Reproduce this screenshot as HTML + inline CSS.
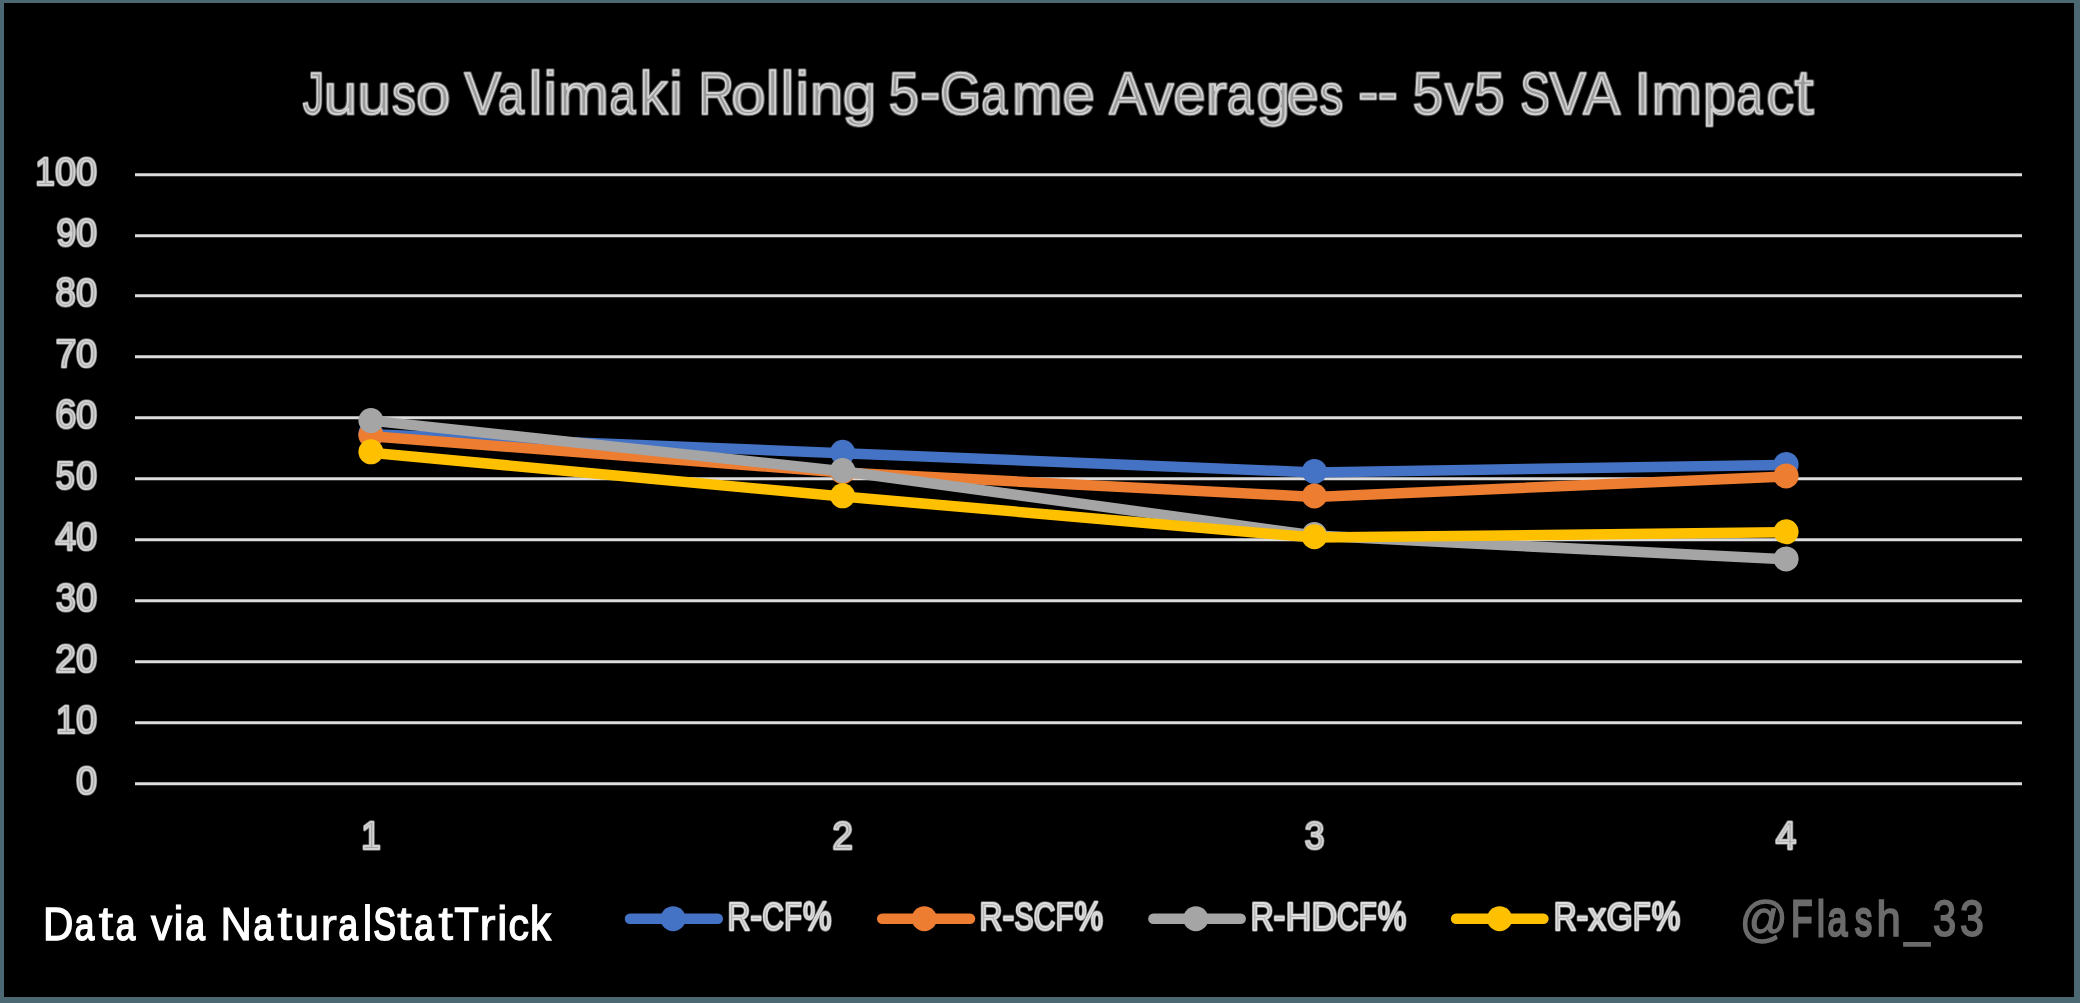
<!DOCTYPE html>
<html lang="en"><head><meta charset="utf-8"><title>Juuso Valimaki Rolling 5-Game Averages</title>
<style>
html,body{margin:0;padding:0;background:#000;}
body{width:2080px;height:1003px;overflow:hidden;}
svg{display:block;will-change:transform;}
text{font-family:'Liberation Sans', sans-serif;font-kerning:none;}
.t{font-size:59.5px;stroke-linejoin:round;}
.x{font-size:39.6px;stroke-linejoin:round;}
.src{font-size:46px;fill:#ffffff;stroke:#ffffff;stroke-width:1px;}
.tag{font-size:50px;fill:#6b6b6b;stroke:#6b6b6b;stroke-width:1.2px;}
</style></head>
<body>
<svg width="2080" height="1003" viewBox="0 0 2080 1003">
<defs>
<g id="tt">
<text><tspan x="302.75" y="114.10" font-size="59.5" textLength="21.42" lengthAdjust="spacingAndGlyphs">J</tspan><tspan x="323.73" y="114.10" font-size="57.7" textLength="33.27" lengthAdjust="spacingAndGlyphs">u</tspan><tspan x="357.45" y="114.10" font-size="57.7" textLength="33.27" lengthAdjust="spacingAndGlyphs">u</tspan><tspan x="392.00" y="114.10" font-size="57.6" textLength="23.79" lengthAdjust="spacingAndGlyphs">s</tspan><tspan x="415.99" y="114.10" font-size="57.5" textLength="34.32" lengthAdjust="spacingAndGlyphs">o</tspan> <tspan x="464.52" y="114.10" font-size="59.5" textLength="36.51" lengthAdjust="spacingAndGlyphs">V</tspan><tspan x="498.04" y="114.10" font-size="57.6" textLength="26.16" lengthAdjust="spacingAndGlyphs">a</tspan><tspan x="528.53" y="114.10" font-size="61.1" textLength="13.94" lengthAdjust="spacingAndGlyphs">l</tspan><tspan x="543.48" y="114.10" font-size="60.6" textLength="13.46" lengthAdjust="spacingAndGlyphs">i</tspan><tspan x="558.17" y="114.10" font-size="57.5" textLength="50.59" lengthAdjust="spacingAndGlyphs">m</tspan><tspan x="609.50" y="114.10" font-size="57.6" textLength="26.16" lengthAdjust="spacingAndGlyphs">a</tspan><tspan x="639.83" y="114.10" font-size="61.1" textLength="28.08" lengthAdjust="spacingAndGlyphs">k</tspan><tspan x="669.37" y="114.10" font-size="60.6" textLength="13.46" lengthAdjust="spacingAndGlyphs">i</tspan> <tspan x="698.56" y="114.10" font-size="59.5" textLength="35.63" lengthAdjust="spacingAndGlyphs">R</tspan><tspan x="731.29" y="114.10" font-size="57.5" textLength="34.32" lengthAdjust="spacingAndGlyphs">o</tspan><tspan x="765.75" y="114.10" font-size="61.1" textLength="13.94" lengthAdjust="spacingAndGlyphs">l</tspan><tspan x="780.48" y="114.10" font-size="61.1" textLength="13.94" lengthAdjust="spacingAndGlyphs">l</tspan><tspan x="795.43" y="114.10" font-size="60.6" textLength="13.46" lengthAdjust="spacingAndGlyphs">i</tspan><tspan x="809.96" y="114.10" font-size="57.5" textLength="33.27" lengthAdjust="spacingAndGlyphs">n</tspan><tspan x="842.74" y="114.10" font-size="57.7" textLength="33.48" lengthAdjust="spacingAndGlyphs">g</tspan> <tspan x="888.71" y="114.10" font-size="59.5" textLength="30.29" lengthAdjust="spacingAndGlyphs">5</tspan><tspan x="920.12" y="114.10" font-size="64.3" textLength="20.43" lengthAdjust="spacingAndGlyphs">-</tspan><tspan x="939.88" y="114.10" font-size="59.3" textLength="41.36" lengthAdjust="spacingAndGlyphs">G</tspan><tspan x="981.26" y="114.10" font-size="57.6" textLength="26.16" lengthAdjust="spacingAndGlyphs">a</tspan><tspan x="1011.94" y="114.10" font-size="57.5" textLength="50.59" lengthAdjust="spacingAndGlyphs">m</tspan><tspan x="1062.51" y="114.10" font-size="57.5" textLength="32.31" lengthAdjust="spacingAndGlyphs">e</tspan> <tspan x="1109.20" y="114.10" font-size="59.5" textLength="36.88" lengthAdjust="spacingAndGlyphs">A</tspan><tspan x="1145.40" y="114.10" font-size="57.7" textLength="28.18" lengthAdjust="spacingAndGlyphs">v</tspan><tspan x="1173.24" y="114.10" font-size="57.5" textLength="32.31" lengthAdjust="spacingAndGlyphs">e</tspan><tspan x="1205.77" y="114.10" font-size="57.6" textLength="21.10" lengthAdjust="spacingAndGlyphs">r</tspan><tspan x="1226.98" y="114.10" font-size="57.6" textLength="26.16" lengthAdjust="spacingAndGlyphs">a</tspan><tspan x="1256.56" y="114.10" font-size="57.7" textLength="33.48" lengthAdjust="spacingAndGlyphs">g</tspan><tspan x="1286.63" y="114.10" font-size="57.5" textLength="32.31" lengthAdjust="spacingAndGlyphs">e</tspan><tspan x="1319.55" y="114.10" font-size="57.6" textLength="23.79" lengthAdjust="spacingAndGlyphs">s</tspan> <tspan x="1357.91" y="114.10" font-size="64.3" textLength="20.43" lengthAdjust="spacingAndGlyphs">-</tspan><tspan x="1377.55" y="114.10" font-size="64.3" textLength="20.43" lengthAdjust="spacingAndGlyphs">-</tspan> <tspan x="1412.82" y="114.10" font-size="59.5" textLength="30.29" lengthAdjust="spacingAndGlyphs">5</tspan><tspan x="1445.01" y="114.10" font-size="57.7" textLength="28.18" lengthAdjust="spacingAndGlyphs">v</tspan><tspan x="1474.32" y="114.10" font-size="59.5" textLength="30.29" lengthAdjust="spacingAndGlyphs">5</tspan> <tspan x="1520.33" y="114.10" font-size="59.3" textLength="29.55" lengthAdjust="spacingAndGlyphs">S</tspan><tspan x="1549.61" y="114.10" font-size="59.5" textLength="36.51" lengthAdjust="spacingAndGlyphs">V</tspan><tspan x="1583.21" y="114.10" font-size="59.5" textLength="36.88" lengthAdjust="spacingAndGlyphs">A</tspan> <tspan x="1634.29" y="114.10" font-size="59.5" textLength="16.99" lengthAdjust="spacingAndGlyphs">I</tspan><tspan x="1651.45" y="114.10" font-size="57.5" textLength="50.59" lengthAdjust="spacingAndGlyphs">m</tspan><tspan x="1702.68" y="114.10" font-size="57.7" textLength="33.36" lengthAdjust="spacingAndGlyphs">p</tspan><tspan x="1736.48" y="114.10" font-size="57.6" textLength="26.16" lengthAdjust="spacingAndGlyphs">a</tspan><tspan x="1766.41" y="114.10" font-size="57.5" textLength="27.51" lengthAdjust="spacingAndGlyphs">c</tspan><tspan x="1794.63" y="114.10" font-size="62.4" textLength="19.07" lengthAdjust="spacingAndGlyphs">t</tspan></text>
</g>
<g id="ax">
<text><tspan x="76.21" y="794.20" font-size="39.5" textLength="20.70" lengthAdjust="spacingAndGlyphs">0</tspan></text>
<text><tspan x="56.01" y="733.20" font-size="39.7" textLength="19.58" lengthAdjust="spacingAndGlyphs">1</tspan><tspan x="76.21" y="733.20" font-size="39.5" textLength="20.70" lengthAdjust="spacingAndGlyphs">0</tspan></text>
<text><tspan x="55.49" y="672.20" font-size="39.5" textLength="20.34" lengthAdjust="spacingAndGlyphs">2</tspan><tspan x="76.21" y="672.20" font-size="39.5" textLength="20.70" lengthAdjust="spacingAndGlyphs">0</tspan></text>
<text><tspan x="56.12" y="611.20" font-size="39.5" textLength="19.71" lengthAdjust="spacingAndGlyphs">3</tspan><tspan x="76.21" y="611.20" font-size="39.5" textLength="20.70" lengthAdjust="spacingAndGlyphs">0</tspan></text>
<text><tspan x="55.39" y="550.20" font-size="39.6" textLength="20.48" lengthAdjust="spacingAndGlyphs">4</tspan><tspan x="76.21" y="550.20" font-size="39.5" textLength="20.70" lengthAdjust="spacingAndGlyphs">0</tspan></text>
<text><tspan x="55.76" y="489.20" font-size="39.6" textLength="19.01" lengthAdjust="spacingAndGlyphs">5</tspan><tspan x="76.21" y="489.20" font-size="39.5" textLength="20.70" lengthAdjust="spacingAndGlyphs">0</tspan></text>
<text><tspan x="55.39" y="428.20" font-size="41.1" textLength="20.77" lengthAdjust="spacingAndGlyphs">6</tspan><tspan x="76.21" y="428.20" font-size="39.5" textLength="20.70" lengthAdjust="spacingAndGlyphs">0</tspan></text>
<text><tspan x="55.70" y="367.20" font-size="39.6" textLength="20.49" lengthAdjust="spacingAndGlyphs">7</tspan><tspan x="76.21" y="367.20" font-size="39.5" textLength="20.70" lengthAdjust="spacingAndGlyphs">0</tspan></text>
<text><tspan x="55.59" y="306.20" font-size="41.5" textLength="20.18" lengthAdjust="spacingAndGlyphs">8</tspan><tspan x="76.21" y="306.20" font-size="39.5" textLength="20.70" lengthAdjust="spacingAndGlyphs">0</tspan></text>
<text><tspan x="56.51" y="246.20" font-size="39.5" textLength="19.70" lengthAdjust="spacingAndGlyphs">9</tspan><tspan x="76.21" y="246.20" font-size="39.5" textLength="20.70" lengthAdjust="spacingAndGlyphs">0</tspan></text>
<text><tspan x="35.13" y="185.20" font-size="39.7" textLength="19.58" lengthAdjust="spacingAndGlyphs">1</tspan><tspan x="55.33" y="185.20" font-size="39.5" textLength="20.70" lengthAdjust="spacingAndGlyphs">0</tspan><tspan x="76.21" y="185.20" font-size="39.5" textLength="20.70" lengthAdjust="spacingAndGlyphs">0</tspan></text>
<text><tspan x="361.21" y="848.60" font-size="39.7" textLength="19.58" lengthAdjust="spacingAndGlyphs">1</tspan> <tspan x="832.43" y="848.60" font-size="39.5" textLength="20.34" lengthAdjust="spacingAndGlyphs">2</tspan> <tspan x="1304.81" y="848.60" font-size="39.5" textLength="19.71" lengthAdjust="spacingAndGlyphs">3</tspan> <tspan x="1775.84" y="848.60" font-size="39.6" textLength="20.48" lengthAdjust="spacingAndGlyphs">4</tspan></text>
</g>
<g id="lg">
<text><tspan x="727.40" y="930.20" font-size="39.6" textLength="22.83" lengthAdjust="spacingAndGlyphs">R</tspan><tspan x="750.20" y="930.20" font-size="42.8" textLength="11.78" lengthAdjust="spacingAndGlyphs">-</tspan><tspan x="762.34" y="930.20" font-size="39.5" textLength="21.54" lengthAdjust="spacingAndGlyphs">C</tspan><tspan x="784.36" y="930.20" font-size="39.6" textLength="17.65" lengthAdjust="spacingAndGlyphs">F</tspan><tspan x="803.12" y="930.20" font-size="40.6" textLength="28.53" lengthAdjust="spacingAndGlyphs">%</tspan> <tspan x="979.60" y="930.20" font-size="39.6" textLength="22.83" lengthAdjust="spacingAndGlyphs">R</tspan><tspan x="1002.40" y="930.20" font-size="42.8" textLength="11.78" lengthAdjust="spacingAndGlyphs">-</tspan><tspan x="1014.44" y="930.20" font-size="39.5" textLength="18.95" lengthAdjust="spacingAndGlyphs">S</tspan><tspan x="1033.78" y="930.20" font-size="39.5" textLength="21.54" lengthAdjust="spacingAndGlyphs">C</tspan><tspan x="1055.80" y="930.20" font-size="39.6" textLength="17.65" lengthAdjust="spacingAndGlyphs">F</tspan><tspan x="1074.55" y="930.20" font-size="40.6" textLength="28.53" lengthAdjust="spacingAndGlyphs">%</tspan> <tspan x="1250.70" y="930.20" font-size="39.6" textLength="22.83" lengthAdjust="spacingAndGlyphs">R</tspan><tspan x="1273.50" y="930.20" font-size="42.8" textLength="11.78" lengthAdjust="spacingAndGlyphs">-</tspan><tspan x="1285.66" y="930.20" font-size="39.6" textLength="25.58" lengthAdjust="spacingAndGlyphs">H</tspan><tspan x="1311.39" y="930.20" font-size="39.6" textLength="25.63" lengthAdjust="spacingAndGlyphs">D</tspan><tspan x="1336.98" y="930.20" font-size="39.5" textLength="21.54" lengthAdjust="spacingAndGlyphs">C</tspan><tspan x="1358.99" y="930.20" font-size="39.6" textLength="17.65" lengthAdjust="spacingAndGlyphs">F</tspan><tspan x="1377.75" y="930.20" font-size="40.6" textLength="28.53" lengthAdjust="spacingAndGlyphs">%</tspan> <tspan x="1553.75" y="930.20" font-size="39.6" textLength="22.83" lengthAdjust="spacingAndGlyphs">R</tspan><tspan x="1576.55" y="930.20" font-size="42.8" textLength="11.78" lengthAdjust="spacingAndGlyphs">-</tspan><tspan x="1588.60" y="930.20" font-size="38.6" textLength="17.43" lengthAdjust="spacingAndGlyphs">x</tspan><tspan x="1606.78" y="930.20" font-size="39.5" textLength="25.89" lengthAdjust="spacingAndGlyphs">G</tspan><tspan x="1633.11" y="930.20" font-size="39.6" textLength="17.65" lengthAdjust="spacingAndGlyphs">F</tspan><tspan x="1651.86" y="930.20" font-size="40.6" textLength="28.53" lengthAdjust="spacingAndGlyphs">%</tspan></text>
</g>
<mask id="ttm" maskUnits="userSpaceOnUse" x="0" y="0" width="2080" height="160">
<use href="#tt" class="t" fill="#fff" stroke="#fff" stroke-width="1.4"/>
</mask>
</defs>
<rect x="0" y="0" width="2080" height="1003" fill="#4c6872"/>
<rect x="4" y="3" width="2070" height="994" fill="#000000"/>
<g stroke="#dcdcdc" stroke-width="3" fill="none">
<line x1="135" y1="783.70" x2="2022" y2="783.70"/>
<line x1="135" y1="722.70" x2="2022" y2="722.70"/>
<line x1="135" y1="661.70" x2="2022" y2="661.70"/>
<line x1="135" y1="600.70" x2="2022" y2="600.70"/>
<line x1="135" y1="539.70" x2="2022" y2="539.70"/>
<line x1="135" y1="478.70" x2="2022" y2="478.70"/>
<line x1="135" y1="417.70" x2="2022" y2="417.70"/>
<line x1="135" y1="356.70" x2="2022" y2="356.70"/>
<line x1="135" y1="295.70" x2="2022" y2="295.70"/>
<line x1="135" y1="235.70" x2="2022" y2="235.70"/>
<line x1="135" y1="174.70" x2="2022" y2="174.70"/>
</g>
<g fill="#4472C4" stroke="none">
<polyline points="370.9,434.2 842.6,453.2 1314.4,472.4 1786.1,464.9" fill="none" stroke="#4472C4" stroke-width="10.5" stroke-linecap="round" stroke-linejoin="round"/>
<circle cx="370.9" cy="433.5" r="12.5"/>
<circle cx="842.6" cy="452.3" r="12.5"/>
<circle cx="1314.4" cy="471.4" r="12.5"/>
<circle cx="1786.1" cy="464.4" r="12.5"/>
</g>
<g fill="#ED7D31" stroke="none">
<polyline points="370.9,436.3 842.6,472.5 1314.4,496.9 1786.1,476.4" fill="none" stroke="#ED7D31" stroke-width="10.5" stroke-linecap="round" stroke-linejoin="round"/>
<circle cx="370.9" cy="435.2" r="12.5"/>
<circle cx="842.6" cy="471.7" r="12.5"/>
<circle cx="1314.4" cy="496.0" r="12.5"/>
<circle cx="1786.1" cy="475.9" r="12.5"/>
</g>
<g fill="#A5A5A5" stroke="none">
<polyline points="370.9,420.6 842.6,471.2 1314.4,535.5 1786.1,559.4" fill="none" stroke="#A5A5A5" stroke-width="10.5" stroke-linecap="round" stroke-linejoin="round"/>
<circle cx="370.9" cy="420.6" r="12.5"/>
<circle cx="842.6" cy="470.4" r="12.5"/>
<circle cx="1314.4" cy="534.5" r="12.5"/>
<circle cx="1786.1" cy="558.9" r="12.5"/>
</g>
<g fill="#FFC000" stroke="none">
<polyline points="370.9,452.7 842.6,496.6 1314.4,537.6 1786.1,532.3" fill="none" stroke="#FFC000" stroke-width="10.5" stroke-linecap="round" stroke-linejoin="round"/>
<circle cx="370.9" cy="451.8" r="12.5"/>
<circle cx="842.6" cy="495.8" r="12.5"/>
<circle cx="1314.4" cy="536.7" r="12.5"/>
<circle cx="1786.1" cy="531.8" r="12.5"/>
</g>
<use href="#tt" class="t" fill="none" stroke="#505050" stroke-width="3.6"/>
<g mask="url(#ttm)"><use href="#tt" class="t" fill="#9a9a9a" stroke="#d0d0d0" stroke-width="2.6"/></g>
<use href="#ax" class="x" fill="none" stroke="#6a6a6a" stroke-width="3.6"/>
<use href="#ax" class="x" fill="#a8a8a8" stroke="#d2d2d2" stroke-width="2"/>
<line x1="630.0" y1="918.7" x2="717.8" y2="918.7" stroke="#4472C4" stroke-width="10.5" stroke-linecap="round"/>
<circle cx="673.1" cy="918.7" r="12.5" fill="#4472C4"/>
<line x1="882.2" y1="918.7" x2="970.0" y2="918.7" stroke="#ED7D31" stroke-width="10.5" stroke-linecap="round"/>
<circle cx="924.3" cy="918.7" r="12.5" fill="#ED7D31"/>
<line x1="1153.4" y1="918.7" x2="1240.7" y2="918.7" stroke="#A5A5A5" stroke-width="10.5" stroke-linecap="round"/>
<circle cx="1195.8" cy="918.7" r="12.5" fill="#A5A5A5"/>
<line x1="1456.1" y1="918.7" x2="1543.4" y2="918.7" stroke="#FFC000" stroke-width="10.5" stroke-linecap="round"/>
<circle cx="1499.6" cy="918.7" r="12.5" fill="#FFC000"/>
<use href="#lg" class="x" fill="none" stroke="#6a6a6a" stroke-width="3.6"/>
<use href="#lg" class="x" fill="#b4b4b4" stroke="#dedede" stroke-width="2"/>
<g class="src">
<text><tspan x="43.03" y="939.50" font-size="46.6" stroke-width="1.35" textLength="30.37" lengthAdjust="spacingAndGlyphs">D</tspan><tspan x="74.64" y="939.50" font-size="45.1" stroke-width="1.90" textLength="19.46" lengthAdjust="spacingAndGlyphs">a</tspan><tspan x="98.43" y="939.50" font-size="48.9" stroke-width="0.70" textLength="14.94" lengthAdjust="spacingAndGlyphs">t</tspan><tspan x="115.66" y="939.50" font-size="45.1" stroke-width="1.90" textLength="19.46" lengthAdjust="spacingAndGlyphs">a</tspan> <tspan x="150.93" y="939.50" font-size="45.2" stroke-width="1.22" textLength="21.11" lengthAdjust="spacingAndGlyphs">v</tspan><tspan x="173.35" y="939.50" font-size="47.4" textLength="10.54" lengthAdjust="spacingAndGlyphs">i</tspan><tspan x="185.51" y="939.50" font-size="45.1" stroke-width="1.90" textLength="19.46" lengthAdjust="spacingAndGlyphs">a</tspan> <tspan x="220.54" y="939.50" font-size="46.6" stroke-width="1.24" textLength="31.34" lengthAdjust="spacingAndGlyphs">N</tspan><tspan x="253.57" y="939.50" font-size="45.1" stroke-width="1.90" textLength="19.46" lengthAdjust="spacingAndGlyphs">a</tspan><tspan x="277.36" y="939.50" font-size="48.9" stroke-width="0.70" textLength="14.94" lengthAdjust="spacingAndGlyphs">t</tspan><tspan x="294.18" y="939.50" font-size="45.2" textLength="24.81" lengthAdjust="spacingAndGlyphs">u</tspan><tspan x="320.42" y="939.50" font-size="45.1" stroke-width="0.73" textLength="16.46" lengthAdjust="spacingAndGlyphs">r</tspan><tspan x="338.62" y="939.50" font-size="45.1" stroke-width="1.90" textLength="19.46" lengthAdjust="spacingAndGlyphs">a</tspan><tspan x="363.24" y="939.50" font-size="47.9" stroke-width="1.86" textLength="8.42" lengthAdjust="spacingAndGlyphs">l</tspan><tspan x="373.47" y="939.50" font-size="46.4" stroke-width="2.24" textLength="22.30" lengthAdjust="spacingAndGlyphs">S</tspan><tspan x="397.13" y="939.50" font-size="48.9" stroke-width="0.70" textLength="14.94" lengthAdjust="spacingAndGlyphs">t</tspan><tspan x="414.36" y="939.50" font-size="45.1" stroke-width="1.90" textLength="19.46" lengthAdjust="spacingAndGlyphs">a</tspan><tspan x="438.15" y="939.50" font-size="48.9" stroke-width="0.70" textLength="14.94" lengthAdjust="spacingAndGlyphs">t</tspan><tspan x="454.49" y="939.50" font-size="46.6" stroke-width="1.57" textLength="24.17" lengthAdjust="spacingAndGlyphs">T</tspan><tspan x="479.29" y="939.50" font-size="45.1" stroke-width="0.73" textLength="16.46" lengthAdjust="spacingAndGlyphs">r</tspan><tspan x="496.90" y="939.50" font-size="47.4" textLength="10.54" lengthAdjust="spacingAndGlyphs">i</tspan><tspan x="508.44" y="939.50" font-size="45.0" stroke-width="1.32" textLength="20.44" lengthAdjust="spacingAndGlyphs">c</tspan><tspan x="530.12" y="939.50" font-size="47.9" stroke-width="1.48" textLength="20.90" lengthAdjust="spacingAndGlyphs">k</tspan></text>
</g>
<g class="tag">
<text><tspan x="1739.78" y="935.50" font-size="50.0" stroke-width="1.40" textLength="48.00" lengthAdjust="spacingAndGlyphs">@</tspan><tspan x="1791.16" y="935.50" font-size="50.0" stroke-width="2.77" textLength="21.12" lengthAdjust="spacingAndGlyphs">F</tspan><tspan x="1817.28" y="935.50" font-size="50.0" stroke-width="3.01" textLength="7.33" lengthAdjust="spacingAndGlyphs">l</tspan><tspan x="1827.49" y="935.50" font-size="50.0" stroke-width="2.62" textLength="19.81" lengthAdjust="spacingAndGlyphs">a</tspan><tspan x="1854.95" y="935.50" font-size="50.0" stroke-width="2.83" textLength="17.09" lengthAdjust="spacingAndGlyphs">s</tspan><tspan x="1876.38" y="935.50" font-size="50.0" stroke-width="1.71" textLength="24.26" lengthAdjust="spacingAndGlyphs">h</tspan><tspan x="1904.39" y="935.50" font-size="50.0" stroke-width="1.56" textLength="25.21" lengthAdjust="spacingAndGlyphs">_</tspan><tspan x="1933.02" y="935.50" font-size="50.0" stroke-width="1.91" textLength="23.11" lengthAdjust="spacingAndGlyphs">3</tspan><tspan x="1959.97" y="935.50" font-size="50.0" stroke-width="1.79" textLength="23.81" lengthAdjust="spacingAndGlyphs">3</tspan></text>
</g>
</svg>
</body></html>
